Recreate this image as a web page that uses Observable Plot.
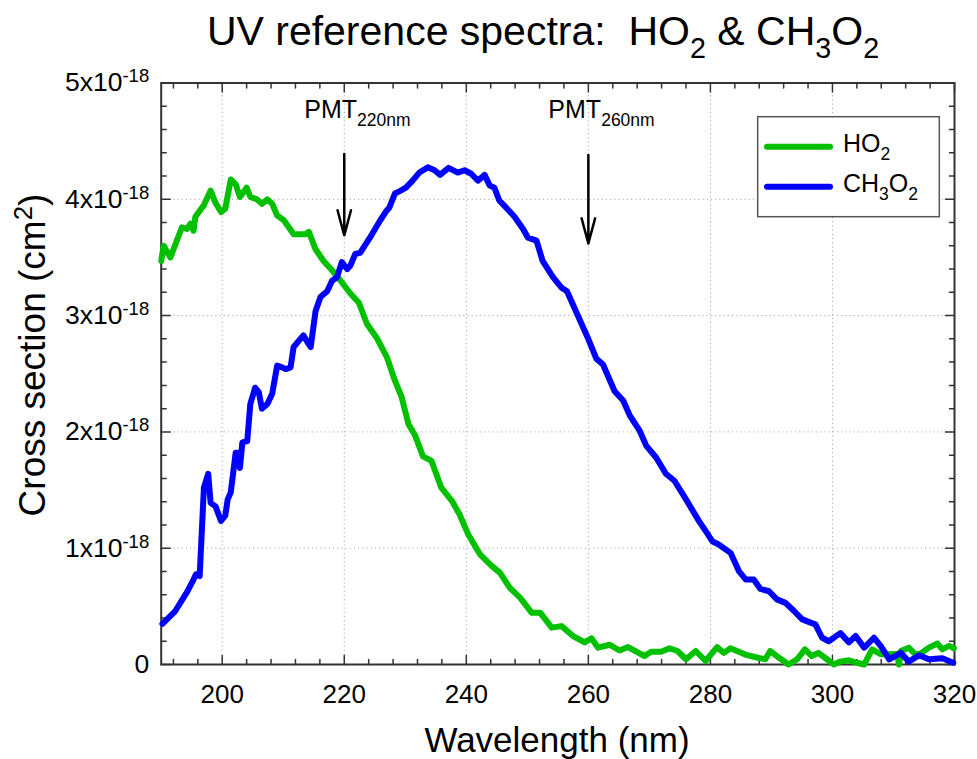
<!DOCTYPE html>
<html><head><meta charset="utf-8">
<script src="https://cdn.jsdelivr.net/npm/d3@7"></script>
<script src="https://cdn.jsdelivr.net/npm/@observablehq/plot@0.6"></script>
<style>
html,body{margin:0;padding:0;background:#fff;}
#chart{width:977px;height:759px;}
</style></head><body><div id="chart"></div>
<script>
// Cross sections are in units of 1e-18 cm^2
const ho2Wavelength = [190.0,190.4,191.5,193.4,194.2,194.8,195.3,195.6,197.0,198.1,198.9,199.8,200.5,201.4,202.2,202.9,204.0,204.6,205.7,206.5,207.4,208.2,209.0,210.1,211.7,213.6,214.2,215.3,216.6,218.0,219.4,221.0,222.4,223.7,225.3,227.0,228.3,229.4,230.5,231.6,232.9,234.3,235.9,237.6,238.9,240.3,242.2,244.1,245.5,247.1,248.8,250.7,252.1,254.0,255.6,257.5,259.4,260.5,261.6,263.5,265.1,266.5,269.2,270.3,271.9,273.3,274.6,276.0,277.6,279.2,281.1,282.2,283.3,286.0,287.6,289.0,289.8,291.2,292.8,294.2,295.5,296.6,297.7,299.1,300.2,301.3,302.7,304.0,305.2,306.5,307.9,309.2,310.6,310.9,311.2,312.5,313.6,314.4,315.8,317.2,318.0,319.1,319.9];
const ho2Cross = [3.47,3.60,3.50,3.76,3.745,3.79,3.73,3.85,3.95,4.075,3.97,3.89,3.92,4.17,4.13,4.02,4.10,4.02,4.00,3.96,4.00,3.96,3.86,3.82,3.70,3.70,3.72,3.57,3.47,3.39,3.30,3.19,3.11,2.93,2.81,2.64,2.44,2.30,2.07,1.97,1.79,1.75,1.52,1.41,1.29,1.12,0.95,0.85,0.79,0.66,0.575,0.446,0.446,0.317,0.33,0.245,0.19,0.225,0.145,0.17,0.12,0.15,0.073,0.11,0.11,0.14,0.116,0.045,0.116,0.03,0.15,0.10,0.14,0.08,0.06,0.045,0.116,0.06,0.00,0.045,0.13,0.073,0.10,0.045,0.00,0.025,0.036,0.015,0.0,0.13,0.088,0.088,0.09,0.0,0.116,0.145,0.088,0.093,0.145,0.18,0.13,0.16,0.14];

const ch3o2Wavelength = [190.2,192.3,194.2,195.3,195.7,196.3,197.0,197.7,198.1,198.9,199.8,200.5,200.9,201.4,202.2,202.5,202.9,203.3,204.1,204.6,205.4,206.0,206.5,207.4,208.2,209.0,209.8,210.4,211.2,211.7,213.3,214.1,214.5,215.3,216.1,217.2,218.0,218.8,219.6,220.5,221.0,221.8,222.6,224.2,225.9,226.9,227.4,228.3,229.1,230.1,231.2,232.3,233.7,234.8,235.7,237.1,238.6,239.7,240.8,241.9,243.0,243.8,244.6,245.4,246.5,247.9,249.3,250.1,251.5,252.5,254.2,255.6,256.5,258.2,259.9,261.3,262.4,264.3,265.7,266.8,268.4,269.5,271.1,272.7,274.1,276.0,278.1,279.2,280.3,281.4,283.3,284.7,285.8,287.1,288.2,289.6,290.9,292.3,293.7,295.0,296.4,297.2,298.3,299.4,301.3,302.7,303.8,305.2,306.8,307.9,309.3,311.2,312.5,314.2,315.8,318.0,319.8];
const ch3o2Cross = [0.35,0.46,0.62,0.73,0.776,0.76,1.52,1.64,1.39,1.36,1.235,1.28,1.42,1.48,1.82,1.82,1.69,1.91,1.92,2.24,2.38,2.34,2.20,2.24,2.33,2.57,2.555,2.54,2.555,2.73,2.83,2.76,2.73,3.04,3.16,3.21,3.30,3.33,3.46,3.40,3.43,3.53,3.54,3.67,3.82,3.90,3.93,4.05,4.07,4.10,4.16,4.23,4.275,4.25,4.21,4.27,4.23,4.25,4.22,4.16,4.21,4.12,4.10,3.99,3.93,3.85,3.745,3.67,3.645,3.47,3.33,3.24,3.21,3.01,2.81,2.63,2.58,2.35,2.27,2.14,2.01,1.88,1.78,1.64,1.58,1.42,1.235,1.15,1.06,1.03,0.96,0.80,0.73,0.73,0.65,0.63,0.56,0.53,0.46,0.39,0.36,0.345,0.23,0.20,0.27,0.19,0.245,0.145,0.23,0.16,0.045,0.10,0.025,0.08,0.045,0.053,0.015];

const seriesNames = ["HO_{2}", "CH_{3}O_{2}"];
const seriesColors = ["#00c000", "#0000ff"];
const xTickValues = [200, 220, 240, 260, 280, 300, 320];
const yTickValues = [0, 1, 2, 3, 4, 5];
const pmtWavelengths = [220, 260];
const pmtArrowTop = [4.39, 4.38];
const pmtArrowTip = [3.69, 3.62];
const pmtLabelY = [4.695, 4.695];

const ho2 = ho2Wavelength.map((w, i) => ({w, v: ho2Cross[i]}));
const ch3o2 = ch3o2Wavelength.map((w, i) => ({w, v: ch3o2Cross[i]}));
const pmt = pmtWavelengths.map((w, i) => ({w, top: pmtArrowTop[i], tip: pmtArrowTip[i], ly: pmtLabelY[i]}));

const xMinor = d3.range(192, 321, 4).filter(v => v % 20 !== 0);
const xMajor = xTickValues;
const yMinor = d3.range(1, 25).map(i => i / 5).filter(v => !Number.isInteger(v));
const yMajor = yTickValues;

const tickShape = {draw(ctx, l) { ctx.moveTo(0, 0); ctx.lineTo(0, -l); }};
const axisColor = "#333";
function ticks(data, ch, anchor, rotate, len) {
  return Plot.vector(data, {[ch]: d => d, frameAnchor: anchor, rotate, length: len, anchor: "start",
    shape: tickShape, stroke: axisColor, strokeWidth: 1.5});
}

const chart = Plot.plot({
  width: 977, height: 759,
  marginLeft: 160.7, marginRight: 23, marginTop: 82.5, marginBottom: 95,
  x: {domain: [190, 320]},
  y: {domain: [0, 5]},
  style: {fontFamily: "'Liberation Sans', Arial, Helvetica, sans-serif", background: "#fff", color: "#000", overflow: "visible"},
  marks: [
    Plot.gridX(xTickValues.filter(v => v > 190 && v < 320), {stroke: "#a8a8a8", strokeOpacity: 1, strokeWidth: 1, strokeDasharray: "1.2,3"}),
    Plot.gridY(yTickValues.filter(v => v > 0 && v < 5), {stroke: "#a8a8a8", strokeOpacity: 1, strokeWidth: 1, strokeDasharray: "1.2,3"}),
    Plot.frame({stroke: axisColor, strokeWidth: 2}),
    ticks(xMinor, "x", "bottom", 0, 5), ticks(xMajor, "x", "bottom", 0, 9),
    ticks(xMinor, "x", "top", 180, 5), ticks(xMajor, "x", "top", 180, 9),
    ticks(yMinor, "y", "left", 90, 5), ticks(yMajor, "y", "left", 90, 9),
    ticks(yMinor, "y", "right", -90, 5), ticks(yMajor, "y", "right", -90, 9),
    Plot.axisX({ticks: xTickValues, tickSize: 0, tickPadding: 20, fontSize: 26, label: null}),
    Plot.axisY({ticks: yTickValues, tickSize: 0, tickPadding: 12, fontSize: 26.5, label: null,
      tickFormat: d => d === 0 ? "0" : `${d}x10^{-18}`}),
    Plot.line(ho2, {x: "w", y: "v", stroke: seriesColors[0], strokeWidth: 6, strokeLinejoin: "round", strokeLinecap: "round"}),
    Plot.line(ch3o2, {x: "w", y: "v", stroke: seriesColors[1], strokeWidth: 6, strokeLinejoin: "round", strokeLinecap: "round"}),
    Plot.arrow(pmt, {x1: "w", x2: "w", y1: "top", y2: "tip", stroke: "#000", strokeWidth: 2.5, headLength: 15.6, headAngle: 30}),
    Plot.text(pmt, {x: "w", y: "ly", text: d => `PMT_{${d.w}nm}`, textAnchor: "start", lineAnchor: "bottom", dx: -40, fontSize: 25, fill: "#000"})
  ]
});
document.getElementById("chart").appendChild(chart);

const ns = "http://www.w3.org/2000/svg";
function richify(el) {
  const str = el.textContent;
  if (!/[_^]\{/.test(str)) return;
  const size = parseFloat(getComputedStyle(el).fontSize);
  while (el.firstChild) el.removeChild(el.firstChild);
  let shift = 0, last = 0, m;
  const re = /([_^])\{([^}]*)\}/g;
  const add = (s, fs, target) => {
    const t = document.createElementNS(ns, "tspan");
    t.textContent = s;
    if (fs) t.setAttribute("font-size", fs);
    const dy = target - shift;
    if (dy) t.setAttribute("dy", dy);
    shift = target;
    el.appendChild(t);
  };
  while ((m = re.exec(str))) {
    if (m.index > last) add(str.slice(last, m.index), null, 0);
    const sup = m[1] === "^";
    add(m[2], size * 0.7, sup ? -size * 0.34 : size * 0.32);
    last = re.lastIndex;
  }
  if (last < str.length) add(str.slice(last), null, 0);
}

const svg = d3.select(chart);
svg.append("text").attr("x", 543).attr("y", 45).attr("text-anchor", "middle").attr("font-size", 41)
  .style("white-space", "pre").attr("fill", "#000")
  .text(`UV reference spectra:  ${seriesNames[0]} & ${seriesNames[1]}`);
svg.append("text").attr("x", 557).attr("y", 752).attr("text-anchor", "middle").attr("font-size", 35)
  .attr("fill", "#000").text("Wavelength (nm)");
svg.append("text").attr("transform", "translate(45,355) rotate(-90)").attr("text-anchor", "middle").attr("font-size", 37)
  .attr("fill", "#000").text("Cross section (cm^{2})");

const lg = svg.append("g");
lg.append("rect").attr("x", 757.7).attr("y", 116.7).attr("width", 181.6).attr("height", 100)
  .attr("fill", "#fff").attr("stroke", "#555").attr("stroke-width", 1.5);
seriesNames.forEach((name, i) => {
  const yy = 146.7 + i * 40;
  lg.append("line").attr("x1", 767).attr("x2", 830).attr("y1", yy).attr("y2", yy)
    .attr("stroke", seriesColors[i]).attr("stroke-width", 6).attr("stroke-linecap", "round");
  lg.append("text").attr("x", 843).attr("y", yy + 5).attr("text-anchor", "start").attr("font-size", 25)
    .attr("fill", "#000").text(name);
});

chart.querySelectorAll("text").forEach(richify);
</script></body></html>
